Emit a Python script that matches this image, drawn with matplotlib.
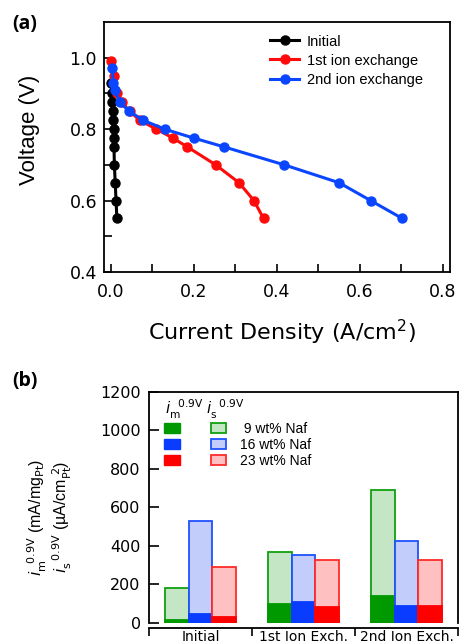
import matplotlib
matplotlib.use('Agg')
import matplotlib.pyplot as plt
from matplotlib.patches import Patch
import numpy as np

# ---- panel (a): polarization curves ----
v_init = [0.93, 0.90, 0.875, 0.85, 0.825, 0.80, 0.775, 0.75, 0.70, 0.65, 0.60, 0.55]
j_init = [0.001, 0.003, 0.004, 0.005, 0.006, 0.007, 0.007, 0.008, 0.009, 0.011, 0.013, 0.015]

v_ie1 = [0.99, 0.95, 0.90, 0.875, 0.85, 0.825, 0.80, 0.775, 0.75, 0.70, 0.65, 0.60, 0.55]
j_ie1 = [0.002, 0.008, 0.015, 0.027, 0.046, 0.070, 0.110, 0.150, 0.185, 0.253, 0.309, 0.345, 0.368]

v_ie2 = [0.97, 0.93, 0.91, 0.875, 0.85, 0.825, 0.80, 0.775, 0.75, 0.70, 0.65, 0.60, 0.55]
j_ie2 = [0.004, 0.006, 0.010, 0.022, 0.045, 0.078, 0.130, 0.200, 0.274, 0.418, 0.550, 0.626, 0.702]

# ---- panel (b): activities at 0.9 V ----
groups = ['Initial', '1st Ion Exch.', '2nd Ion Exch.']
naf_labels = [' 9 wt% Naf', '16 wt% Naf', '23 wt% Naf']
i_s = {'9': [180, 370, 690], '16': [530, 354, 423], '23': [292, 324, 327]}
i_m = {'9': [15, 96, 139], '16': [43, 106, 89], '23': [28, 82, 85]}

dark = ['#009a00', '#0a3cff', '#ff0000']
light = ['#c4e6c4', '#c2cdfb', '#ffc0c2']
edges = ['#10a010', '#2050ff', '#ff2a2a']

fig = plt.figure(figsize=(4.61, 6.43), dpi=100)

ax1 = fig.add_axes([104/461, 1-272/643, 346/461, 250/643])
ax1.plot(j_init, v_init, '-o', color='black', lw=2.2, ms=6.5, label='Initial')
ax1.plot(j_ie1, v_ie1, '-o', color='#ff0a0a', lw=2.2, ms=6.5, label='1st ion exchange')
ax1.plot(j_ie2, v_ie2, '-o', color='#0a46ff', lw=2.2, ms=6.5, label='2nd ion exchange')
ax1.set_xlim(-0.016, 0.817)
ax1.set_ylim(0.4, 1.1)
ax1.set_xticks([0.0, 0.2, 0.4, 0.6, 0.8])
ax1.set_xticks([0.1, 0.3, 0.5, 0.7], minor=True)
ax1.set_yticks([0.4, 0.6, 0.8, 1.0])
ax1.set_yticks([0.5, 0.7, 0.9], minor=True)
ax1.set_xticklabels(['0.0', '0.2', '0.4', '0.6', '0.8'], family='DejaVu Sans', fontsize=12.5)
ax1.set_yticklabels(['0.4', '0.6', '0.8', '1.0'], family='DejaVu Sans', fontsize=12.5)
ax1.tick_params(which='both', direction='in', length=6, width=1.2)
ax1.tick_params(axis='x', pad=8)
ax1.tick_params(axis='y', pad=5)
for s in ax1.spines.values():
    s.set_linewidth(1.3)
ax1.legend(loc='upper left', bbox_to_anchor=(0.48, 0.95), frameon=False,
           prop={'family': 'Liberation Sans', 'size': 10.5},
           handlelength=2.0, handletextpad=0.5, labelspacing=0.35,
           borderpad=0, borderaxespad=0, numpoints=1)
fig.text(282/461, 1-332/643, 'Current Density (A/cm$^2$)', ha='center', va='center',
         family='DejaVu Sans', fontsize=16)
fig.text(30/461, 1-130/643, 'Voltage (V)', rotation=90, ha='center', va='center',
         family='Liberation Sans', fontsize=16)
fig.text(12/461, 1-24/643, '(a)', ha='left', va='center', family='Open Sans',
         fontweight='bold', fontsize=14)

# ---- panel (b): bars, light = i_s, dark = i_m on top ----
ax2 = fig.add_axes([149/461, 1-622.7/643, 309/461, 230.7/643])
x = np.arange(len(groups))
w = 0.23
for k, key in enumerate(['9', '16', '23']):
    ax2.bar(x + (k-1)*w, i_s[key], w, color=light[k], edgecolor=edges[k], linewidth=1.3)
    ax2.bar(x + (k-1)*w, i_m[key], w, color=dark[k], edgecolor=dark[k], linewidth=1.3)
ax2.set_xlim(-0.5, 2.5)
ax2.set_ylim(0, 1200)
ax2.set_xticks([-0.5, 0.5, 1.5, 2.5])
ax2.set_xticklabels([])
ax2.set_xticks(x, minor=True)
ax2.set_xticklabels(groups, minor=True, family='DejaVu Sans', fontsize=7.8)
ax2.tick_params(axis='x', which='major', direction='out', length=6, width=1.2)
ax2.tick_params(axis='x', which='minor', length=0, pad=1.5)
ax2.set_yticks([0, 200, 400, 600, 800, 1000, 1200])
ax2.set_yticklabels(['0', '200', '400', '600', '800', '1000', '1200'],
                    family='DejaVu Sans', fontsize=11.5)
ax2.tick_params(axis='y', direction='in', length=7, width=1.2, pad=6)
for s in ax2.spines.values():
    s.set_linewidth(1.3)
ax2.spines['bottom'].set_position(('outward', 4))

handles = [Patch(facecolor=dark[k], edgecolor=dark[k]) for k in range(3)] + \
          [Patch(facecolor=light[k], edgecolor=edges[k], linewidth=1.3) for k in range(3)]
labels = ['', '', ''] + naf_labels
ax2.legend(handles, labels, ncol=2, loc='upper left', bbox_to_anchor=(0.05, 0.87),
           frameon=False, prop={'family': 'Liberation Sans', 'size': 10},
           handlelength=1.1, handleheight=0.75, handletextpad=1.0,
           columnspacing=1.25, labelspacing=0.15, borderpad=0, borderaxespad=0)
ax2.text(0.052, 0.925, r'$i_{\rm m}^{\ \ \mathrm{0.9V}}$', transform=ax2.transAxes, fontsize=11,
         ha='left', va='center')
ax2.text(0.185, 0.925, r'$i_{\rm s}^{\ \ \mathrm{0.9V}}$', transform=ax2.transAxes, fontsize=11,
         ha='left', va='center')

fig.text(37/461, 1-517/643, r'$i_{\rm m}^{\ \ \mathrm{0.9V}}$ (mA/mg$_{\rm Pt}$)', rotation=90,
         ha='center', va='center', family='Liberation Sans', fontsize=11.5)
fig.text(62/461, 1-517/643, r'$i_{\rm s}^{\ \ \mathrm{0.9V}}$ (µA/cm$_{\rm Pt}^{\ 2}$)',
         rotation=90, ha='center', va='center', family='Liberation Sans', fontsize=11.5)
fig.text(12/461, 1-381/643, '(b)', ha='left', va='center', family='Open Sans',
         fontweight='bold', fontsize=14)

fig.savefig('out.png', dpi=100)
